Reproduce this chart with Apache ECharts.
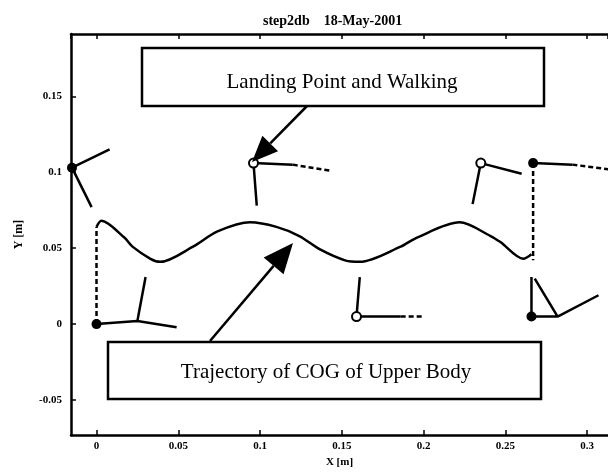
<!DOCTYPE html>
<html>
<head>
<meta charset="utf-8">
<script src="https://cdn.jsdelivr.net/npm/echarts@6/dist/echarts.min.js"></script>
<style>
  html, body { margin: 0; padding: 0; background: #fff; }
  #chart { width: 608px; height: 473px; }
</style>
</head>
<body>
<div id="chart"></div>
<script>
// COG of upper body
var cogPath = [
    [0.000, 0.064], [0.003, 0.068], [0.017, 0.057], [0.022, 0.051], [0.033, 0.043],
    [0.039, 0.041], [0.059, 0.051], [0.074, 0.061], [0.094, 0.067], [0.110, 0.064],
    [0.124, 0.058], [0.137, 0.049], [0.152, 0.042], [0.161, 0.041], [0.186, 0.051],
    [0.196, 0.057], [0.222, 0.067], [0.241, 0.058], [0.247, 0.054], [0.261, 0.043],
    [0.266, 0.046]
];

// leg lines (solid)
var legPaths = [
    [[0.008, 0.115], [-0.015, 0.103], [-0.003, 0.077]],
    [[0.000, 0.000], [0.025, 0.002], [0.049, -0.002]],
    [[0.030, 0.031], [0.025, 0.002]],
    [[0.098, 0.078], [0.096, 0.106], [0.120, 0.105]],
    [[0.161, 0.031], [0.159, 0.005], [0.186, 0.005]],
    [[0.230, 0.079], [0.235, 0.106], [0.260, 0.099]],
    [[0.267, 0.106], [0.291, 0.105]],
    [[0.266, 0.031], [0.266, 0.005], [0.282, 0.005], [0.268, 0.030]],
    [[0.282, 0.005], [0.307, 0.019]]
];

// leg lines (broken)
var legDashed = [
    [[0.000, 0.000], [0.000, 0.064]],
    [[0.120, 0.105], [0.143, 0.101]],
    [[0.186, 0.005], [0.200, 0.005]],
    [[0.267, 0.106], [0.267, 0.042]],
    [[0.291, 0.105], [0.313, 0.102]]
];

var landFilled = [[-0.015, 0.103], [0.000, 0.000], [0.267, 0.106], [0.266, 0.005]];
var landOpen = [[0.096, 0.106], [0.159, 0.005], [0.235, 0.106]];

var myChart = echarts.init(document.getElementById('chart'));

var series = [];
series.push({
    type: 'line', data: cogPath, symbol: 'none', smooth: 0.3,
    lineStyle: { color: '#000', width: 2.5 }, z: 3
});
legPaths.forEach(function (p) {
    series.push({
        type: 'line', data: p, symbol: 'none',
        lineStyle: { color: '#000', width: 2.5 }
    });
});
legDashed.forEach(function (p) {
    series.push({
        type: 'line', data: p, symbol: 'none',
        lineStyle: { color: '#000', width: 2.5, type: [5, 3] }
    });
});
series.push({
    type: 'scatter', data: landFilled, symbol: 'circle', symbolSize: 10,
    itemStyle: { color: '#000', opacity: 1 }, z: 6
});
series.push({
    type: 'scatter', data: landOpen, symbol: 'circle', symbolSize: 9,
    itemStyle: { color: '#fff', opacity: 1, borderColor: '#000', borderWidth: 2 }, z: 6
});

var axisFont = { color: '#000', fontFamily: 'Liberation Serif', fontWeight: 'bold', fontSize: 11 };

// arrow helper for the annotations (pixel coords)
function arrow(x1, y1, x2, y2, len, half) {
    var dx = x2 - x1, dy = y2 - y1, l = Math.sqrt(dx * dx + dy * dy);
    var ux = dx / l, uy = dy / l;
    var bx = x2 - ux * len, by = y2 - uy * len;
    return [
        { type: 'line', shape: { x1: x1, y1: y1, x2: bx, y2: by },
          style: { stroke: '#000', lineWidth: 2.5 }, z: 10 },
        { type: 'polygon', shape: { points: [[x2, y2], [bx - uy * half, by + ux * half], [bx + uy * half, by - ux * half]] },
          style: { fill: '#000' }, z: 10 }
    ];
}

var tickStyle = { inside: true, length: 5, lineStyle: { color: '#000', width: 1.5 } };
var lineStyle = { onZero: false, lineStyle: { color: '#000', width: 2.5 } };

var option = {
    backgroundColor: '#fff',
    animation: false,
    grid: { left: 71, right: 0, top: 34, bottom: 36 },
    xAxis: [{
        type: 'value', min: -0.0156, max: 0.3128,
        name: 'X [m]', nameLocation: 'middle', nameGap: 22,
        nameTextStyle: axisFont,
        axisLine: lineStyle,
        axisTick: tickStyle,
        axisLabel: { showMinLabel: false, showMaxLabel: false, margin: 6, textStyle: axisFont },
        splitLine: { show: false }
    }, {
        type: 'value', position: 'top', min: -0.0156, max: 0.3128,
        axisLine: lineStyle,
        axisTick: tickStyle,
        axisLabel: { show: false },
        splitLine: { show: false }
    }],
    yAxis: {
        type: 'value', min: -0.073, max: 0.191,
        name: 'Y [m]', nameLocation: 'middle', nameGap: 46, nameRotate: 90,
        nameTextStyle: { color: '#000', fontFamily: 'Liberation Serif', fontWeight: 'bold', fontSize: 12 },
        axisLine: lineStyle,
        axisTick: tickStyle,
        axisLabel: { showMinLabel: false, showMaxLabel: false, margin: 9, textStyle: axisFont },
        splitLine: { show: false }
    },
    series: series,
    graphic: [
        { type: 'text', left: 263, top: 14,
          style: { text: 'step2db    18-May-2001', fill: '#000', font: 'bold 14px "Liberation Serif"' } },
        { type: 'rect', shape: { x: 142, y: 48, width: 402, height: 58 },
          style: { fill: '#fff', stroke: '#000', lineWidth: 2.5 }, z: 10 },
        { type: 'text', x: 342, y: 82, z: 11,
          style: { text: 'Landing Point and Walking', fill: '#000', font: '21px "Liberation Serif"',
                   textAlign: 'center', textVerticalAlign: 'middle' } },
        { type: 'rect', shape: { x: 108, y: 342, width: 433, height: 57 },
          style: { fill: '#fff', stroke: '#000', lineWidth: 2.5 }, z: 10 },
        { type: 'text', x: 326, y: 372, z: 11,
          style: { text: 'Trajectory of COG of Upper Body', fill: '#000', font: '21px "Liberation Serif"',
                   textAlign: 'center', textVerticalAlign: 'middle' } }
    ].concat(arrow(307, 106, 252, 162, 26, 11)).concat(arrow(210, 341, 293, 243, 30, 13))
};

myChart.setOption(option);
</script>
</body>
</html>
